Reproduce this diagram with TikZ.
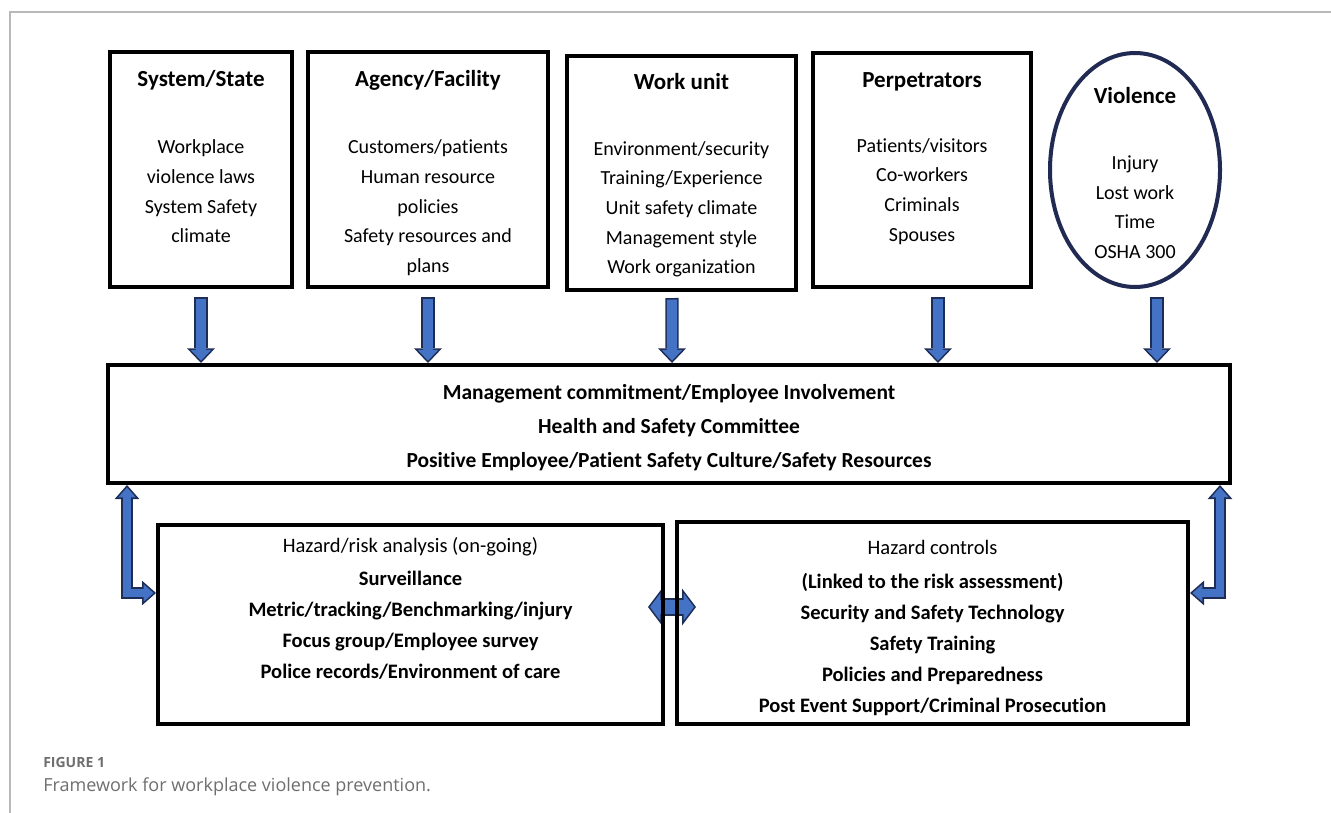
\documentclass[tikz,border=0pt]{standalone}
\usepackage{fontspec}
\setmainfont{Carlito}[Ligatures=NoCommon]
\newfontfamily\capfont{Open Sans}
\usetikzlibrary{arrows.meta,shapes.geometric,fit,calc}

\definecolor{arrowfill}{RGB}{68,114,196}
\definecolor{arrowline}{RGB}{30,45,85}
\definecolor{ovalline}{RGB}{32,42,82}
\definecolor{framegray}{RGB}{185,185,185}
\definecolor{captiongray}{RGB}{110,110,110}

\pgfdeclarelayer{back}
\pgfsetlayers{back,main}

\newcommand{\boxhead}[1]{{\fontsize{17.25}{20}\selectfont\bfseries #1}}

\tikzset{
  blk/.style={draw, line width=3pt, inner sep=0pt},
  boxtext/.style={anchor=north, align=center, inner sep=0pt, font=\fontsize{15}{22.25}\selectfont},
  midtext/.style={align=center, inner sep=0pt, font=\fontsize{16.1}{25.5}\selectfont\bfseries},
  lowtext/.style={anchor=north, align=center, inner sep=0pt, font=\fontsize{15.4}{23.25}\selectfont\bfseries},
  % block arrows: dark outline pass, then blue fill pass
  downarrow/.style={draw=arrowline, line width=10pt,
    -{Triangle[length=11pt,width=21pt,line width=0pt]},
    postaction={draw=arrowfill, line width=7.6pt, shorten >=1.74pt, shorten <=1.2pt,
      -{Triangle[length=8.06pt,width=15.4pt,line width=0pt]}}},
  twoway/.style={draw=arrowline, line width=8.5pt, line join=miter,
    {Triangle[length=10.5pt,width=18.5pt,line width=0pt]}-{Triangle[length=10.5pt,width=18.5pt,line width=0pt]},
    postaction={draw=arrowfill, line width=6.1pt, line join=miter, shorten >=1.84pt, shorten <=1.84pt,
      {Triangle[length=7.46pt,width=13.1pt,line width=0pt]}-{Triangle[length=7.46pt,width=13.1pt,line width=0pt]}}},
  wideway/.style={draw=arrowline, line width=13.5pt,
    {Triangle[length=10.5pt,width=27.75pt,line width=0pt]}-{Triangle[length=10.5pt,width=27.75pt,line width=0pt]},
    postaction={draw=arrowfill, line width=11.1pt, shorten >=1.5pt, shorten <=1.5pt,
      {Triangle[length=7.8pt,width=20.6pt,line width=0pt]}-{Triangle[length=7.8pt,width=20.6pt,line width=0pt]}}},
}

\begin{document}
\begin{tikzpicture}[x=0.75pt,y=-0.75pt]
    \useasboundingbox (0,0) rectangle (1331,813);

    % Frame
    \draw[framegray, line width=1pt] (10,813) -- (10,12) -- (1331,12);

    % Top row
    \node[blk, fit={(110,52) (292,287)}] (sys) {};
    \node[boxtext] (systxt) at ([yshift=-14.75pt]sys.north)
        {\boxhead{System/State}\\[28.5pt]Workplace\\violence laws\\System Safety\\climate};

    \node[blk, fit={(308,52) (548,287)}] (agency) {};
    \node[boxtext] (agencytxt) at ([yshift=-14.75pt]agency.north)
        {\boxhead{Agency/Facility}\\[28.5pt]Customers/patients\\Human resource\\policies\\Safety resources and\\plans};

    \node[blk, fit={(567,56) (796,290)}] (unit) {};
    \node[boxtext] (unittxt) at ([yshift=-14.25pt]unit.north)
        {\boxhead{Work unit}\\[27pt]Environment/security\\Training/Experience\\Unit safety climate\\Management style\\Work organization};

    \node[blk, fit={(813,53) (1031,287)}] (perp) {};
    \node[boxtext] (perptxt) at ([yshift=-15.75pt]perp.north)
        {\boxhead{Perpetrators}\\[26.5pt]Patients/visitors\\Co-workers\\Criminals\\Spouses};

    \node[draw=ovalline, line width=3pt, ellipse, inner sep=0pt,
          minimum width=127.5pt, minimum height=175.5pt] (viol) at (1135,170) {};
    \node[boxtext] (violtxt) at ([yshift=-26.75pt]viol.north)
        {\boxhead{Violence}\\[27.5pt]Injury\\Lost work\\Time\\OSHA 300};

    % Middle band
    \node[blk, fit={(108,365) (1230,483)}] (mgmt) {};
    \node[midtext] (mgmttxt) at ([yshift=-2.5pt]mgmt.center)
        {Management commitment/Employee Involvement\\Health and Safety Committee\\Positive Employee/Patient Safety Culture/Safety Resources};

    % Bottom row
    \node[blk, fit={(158,525) (663,724)}] (risk) {};
    \node[lowtext] (risktxt) at ([yshift=-10.5pt]risk.north)
        {{\mdseries Hazard/risk analysis (on-going)}\\[1.5pt]Surveillance\\Metric/tracking/Benchmarking/injury\\Focus group/Employee survey\\Police records/Environment of care};

    \node[blk, fit={(677,522) (1188,724)}] (ctrl) {};
    \node[lowtext] (ctrltxt) at ([yshift=-15pt]ctrl.north)
        {{\mdseries Hazard controls}\\[2pt](Linked to the risk assessment)\\Security and Safety Technology\\Safety Training\\Policies and Preparedness\\Post Event Support/Criminal Prosecution};

    % Caption
    \node[anchor=base west, inner sep=0pt, text=captiongray,
          font=\capfont\fontsize{10.5}{12}\selectfont\bfseries] (fignum) at (43,767) {FIGURE 1};
    \node[anchor=base west, inner sep=0pt, text=captiongray,
          font=\capfont\fontsize{13.5}{15}\selectfont] (figcap) at (43,791) {Framework for workplace violence prevention.};

    % Arrows sit behind the box outlines
    \coordinate (lbend) at (127,593);
    \coordinate (rbend) at (1220,593);
    \coordinate (link) at (670,607);
    \begin{pgfonlayer}{back}
        \draw[downarrow] ([yshift=-6pt]sys.south) -- (sys.south |- mgmt.north);
        \draw[downarrow] ([yshift=-6pt]agency.south) -- (agency.south |- mgmt.north);
        \draw[downarrow] ([shift={(-9.5,6)}]unit.south) -- ([xshift=-7.1pt]unit.south |- mgmt.north);
        \draw[downarrow] ([shift={(16,8)}]perp.south) -- ([xshift=12pt]perp.south |- mgmt.north);
        \draw[downarrow] ([shift={(22,8)}]viol.south) -- ([xshift=16.5pt]viol.south |- mgmt.north);

        \draw[twoway] (lbend |- mgmt.south) |- (risk.west |- lbend);
        \draw[twoway] (rbend |- mgmt.south) |- (ctrl.east |- rbend);
        \draw[wideway] ($(risk.east |- link)+(-17,0)$) -- ($(ctrl.west |- link)+(21,0)$);
    \end{pgfonlayer}
\end{tikzpicture}
\end{document}
